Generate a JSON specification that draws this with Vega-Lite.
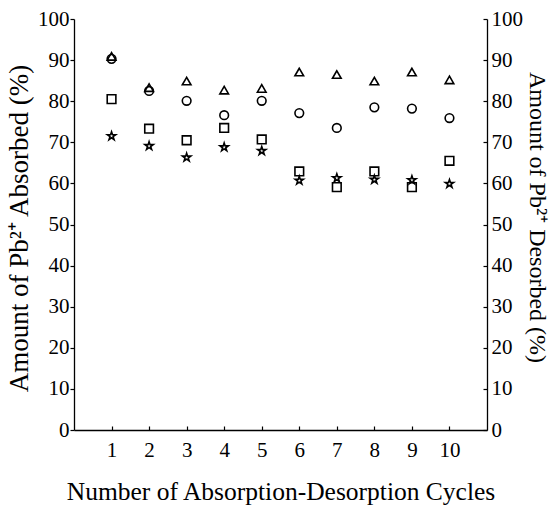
{
  "$schema": "https://vega.github.io/schema/vega-lite/v6.json",
  "width": 413,
  "height": 411,
  "autosize": {"type": "none"},
  "padding": {"left": 74, "top": 19, "right": 68, "bottom": 82},
  "background": "white",
  "config": {
    "view": {"stroke": null},
    "font": "Liberation Serif",
    "axis": {
      "grid": false,
      "domainColor": "black",
      "tickColor": "black",
      "labelColor": "black",
      "titleColor": "black",
      "labelFont": "Liberation Serif",
      "titleFont": "Liberation Serif",
      "labelFontSize": 21,
      "titleFontSize": 25.5,
      "titleFontWeight": "normal",
      "domainWidth": 1.3,
      "tickWidth": 1.2
    }
  },
  "datasets": {
    "absorbed": [
      {"cycle": 1, "series": "A", "value": 90.9},
      {"cycle": 2, "series": "A", "value": 83.3},
      {"cycle": 3, "series": "A", "value": 84.9},
      {"cycle": 4, "series": "A", "value": 82.7},
      {"cycle": 5, "series": "A", "value": 83.1},
      {"cycle": 6, "series": "A", "value": 87.1},
      {"cycle": 7, "series": "A", "value": 86.5},
      {"cycle": 8, "series": "A", "value": 84.9},
      {"cycle": 9, "series": "A", "value": 87.1},
      {"cycle": 10, "series": "A", "value": 85.2},
      {"cycle": 1, "series": "B", "value": 90.3},
      {"cycle": 2, "series": "B", "value": 82.5},
      {"cycle": 3, "series": "B", "value": 80.1},
      {"cycle": 4, "series": "B", "value": 76.6},
      {"cycle": 5, "series": "B", "value": 80.1},
      {"cycle": 6, "series": "B", "value": 77.1},
      {"cycle": 7, "series": "B", "value": 73.5},
      {"cycle": 8, "series": "B", "value": 78.5},
      {"cycle": 9, "series": "B", "value": 78.2},
      {"cycle": 10, "series": "B", "value": 75.9}
    ],
    "desorbed": [
      {"cycle": 1, "series": "C", "value": 80.5},
      {"cycle": 2, "series": "C", "value": 73.3},
      {"cycle": 3, "series": "C", "value": 70.5},
      {"cycle": 4, "series": "C", "value": 73.5},
      {"cycle": 5, "series": "C", "value": 70.7},
      {"cycle": 6, "series": "C", "value": 62.9},
      {"cycle": 7, "series": "C", "value": 59.1},
      {"cycle": 8, "series": "C", "value": 62.9},
      {"cycle": 9, "series": "C", "value": 59.1},
      {"cycle": 10, "series": "C", "value": 65.5},
      {"cycle": 1, "series": "D", "value": 71.5},
      {"cycle": 2, "series": "D", "value": 69.1},
      {"cycle": 3, "series": "D", "value": 66.3},
      {"cycle": 4, "series": "D", "value": 68.8},
      {"cycle": 5, "series": "D", "value": 67.9},
      {"cycle": 6, "series": "D", "value": 60.7},
      {"cycle": 7, "series": "D", "value": 61.3},
      {"cycle": 8, "series": "D", "value": 60.9},
      {"cycle": 9, "series": "D", "value": 60.8},
      {"cycle": 10, "series": "D", "value": 59.9}
    ]
  },
  "encoding": {
    "x": {
      "field": "cycle",
      "type": "quantitative",
      "scale": {"domain": [0, 11], "nice": false, "zero": true},
      "axis": {
        "values": [1, 2, 3, 4, 5, 6, 7, 8, 9, 10],
        "tickSize": -4,
        "labelPadding": 13,
        "title": "Number of Absorption-Desorption Cycles",
        "titlePadding": 19
      }
    },
    "shape": {
      "field": "series",
      "type": "nominal",
      "scale": {
        "domain": ["A", "B", "C", "D"],
        "range": ["triangle-up", "circle", "square", "M0,-1L0.2245,-0.309L0.951,-0.309L0.363,0.118L0.588,0.809L0,0.382L-0.588,0.809L-0.363,0.118L-0.951,-0.309L-0.2245,-0.309Z"]
      },
      "legend": null
    }
  },
  "layer": [
    {
      "data": {"name": "absorbed"},
      "mark": {"type": "point", "filled": false, "color": "black", "strokeWidth": 1.6, "size": 75, "opacity": 1},
      "encoding": {
        "y": {
          "field": "value",
          "type": "quantitative",
          "scale": {"domain": [0, 100], "nice": false},
          "axis": {
            "orient": "left",
            "values": [0, 10, 20, 30, 40, 50, 60, 70, 80, 90, 100],
            "tickSize": 4,
            "labelPadding": 1,
            "title": "Amount of Pb²⁺ Absorbed (%)",
            "titleFontSize": 27,
            "titlePadding": 4,
            "titleY": 209
          }
        }
      }
    },
    {
      "data": {"name": "desorbed"},
      "mark": {"type": "point", "filled": false, "color": "black", "strokeWidth": 1.6, "size": 75, "opacity": 1},
      "encoding": {
        "y": {
          "field": "value",
          "type": "quantitative",
          "scale": {"domain": [0, 100], "nice": false},
          "axis": {
            "orient": "right",
            "values": [0, 10, 20, 30, 40, 50, 60, 70, 80, 90, 100],
            "tickSize": -4,
            "labelPadding": 8,
            "title": "Amount of Pb²⁺ Desorbed (%)",
            "titleFontSize": 24,
            "titlePadding": 2,
            "titleY": 198
          }
        }
      }
    }
  ],
  "resolve": {"scale": {"y": "independent"}}
}
